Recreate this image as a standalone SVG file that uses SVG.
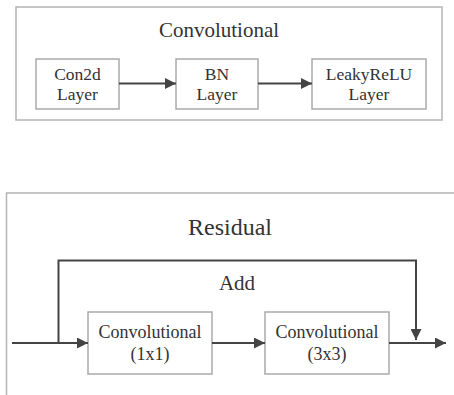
<svg xmlns="http://www.w3.org/2000/svg" width="454" height="395" viewBox="0 0 454 395">
<style>
.frame{fill:#fff;stroke:#b4b4b4;stroke-width:1.5}
.box{fill:#fff;stroke:#aaaaaa;stroke-width:1.5}
text{font-family:"Liberation Serif","Times New Roman",serif !important;fill:#333}
.c{fill:none;stroke:#444;stroke-width:2}
</style>
<defs>
<marker id="ah" viewBox="0 0 10 10" refX="10" refY="5" markerWidth="5.5" markerHeight="5.5" orient="auto" markerUnits="strokeWidth">
<path d="M0,0 L10,5 L0,10 z" fill="#444"/>
</marker>
</defs>
<rect width="454" height="395" fill="#fff"/>
<g id="convolutional">
<rect class="frame" x="16" y="7" width="426" height="113"/>
<text x="219" y="37" font-size="21" text-anchor="middle">Convolutional</text>
</g>
<g id="con2d">
<rect class="box" x="36" y="59" width="83" height="50"/>
<text x="77.5" y="80" font-size="17.5" text-anchor="middle">Con2d</text>
<text x="77.5" y="100" font-size="17.5" text-anchor="middle">Layer</text>
</g>
<g id="bn">
<rect class="box" x="176" y="59" width="82" height="50"/>
<text x="217" y="80" font-size="17.5" text-anchor="middle">BN</text>
<text x="217" y="100" font-size="17.5" text-anchor="middle">Layer</text>
</g>
<g id="leaky">
<rect class="box" x="312" y="59" width="114" height="50"/>
<text x="369" y="80" font-size="17.5" text-anchor="middle">LeakyReLU</text>
<text x="369" y="100" font-size="17.5" text-anchor="middle">Layer</text>
</g>
<g id="residual">
<path class="frame" d="M460,193 H6.5 V400" fill="none"/>
<text x="230" y="235" font-size="24" text-anchor="middle">Residual</text>
<text x="237" y="290" font-size="21" text-anchor="middle">Add</text>
</g>
<g id="conv1">
<rect class="box" x="88" y="312" width="124" height="62"/>
<text x="150" y="338" font-size="18" text-anchor="middle">Convolutional</text>
<text x="150" y="360" font-size="18" text-anchor="middle">(1x1)</text>
</g>
<g id="conv3">
<rect class="box" x="265" y="312" width="124" height="62"/>
<text x="327" y="338" font-size="18" text-anchor="middle">Convolutional</text>
<text x="327" y="360" font-size="18" text-anchor="middle">(3x3)</text>
</g>
<g id="connectors">
<line class="c" x1="119" y1="83.5" x2="176" y2="83.5" marker-end="url(#ah)"/>
<line class="c" x1="258" y1="83.5" x2="312" y2="83.5" marker-end="url(#ah)"/>
<line class="c" x1="12" y1="343" x2="88" y2="343" marker-end="url(#ah)"/>
<line class="c" x1="212" y1="343" x2="265" y2="343" marker-end="url(#ah)"/>
<line class="c" x1="389" y1="343" x2="446" y2="343" marker-end="url(#ah)"/>
<path class="c" d="M58.5,343 V260.5 H416 V340" marker-end="url(#ah)"/>
</g>
</svg>
